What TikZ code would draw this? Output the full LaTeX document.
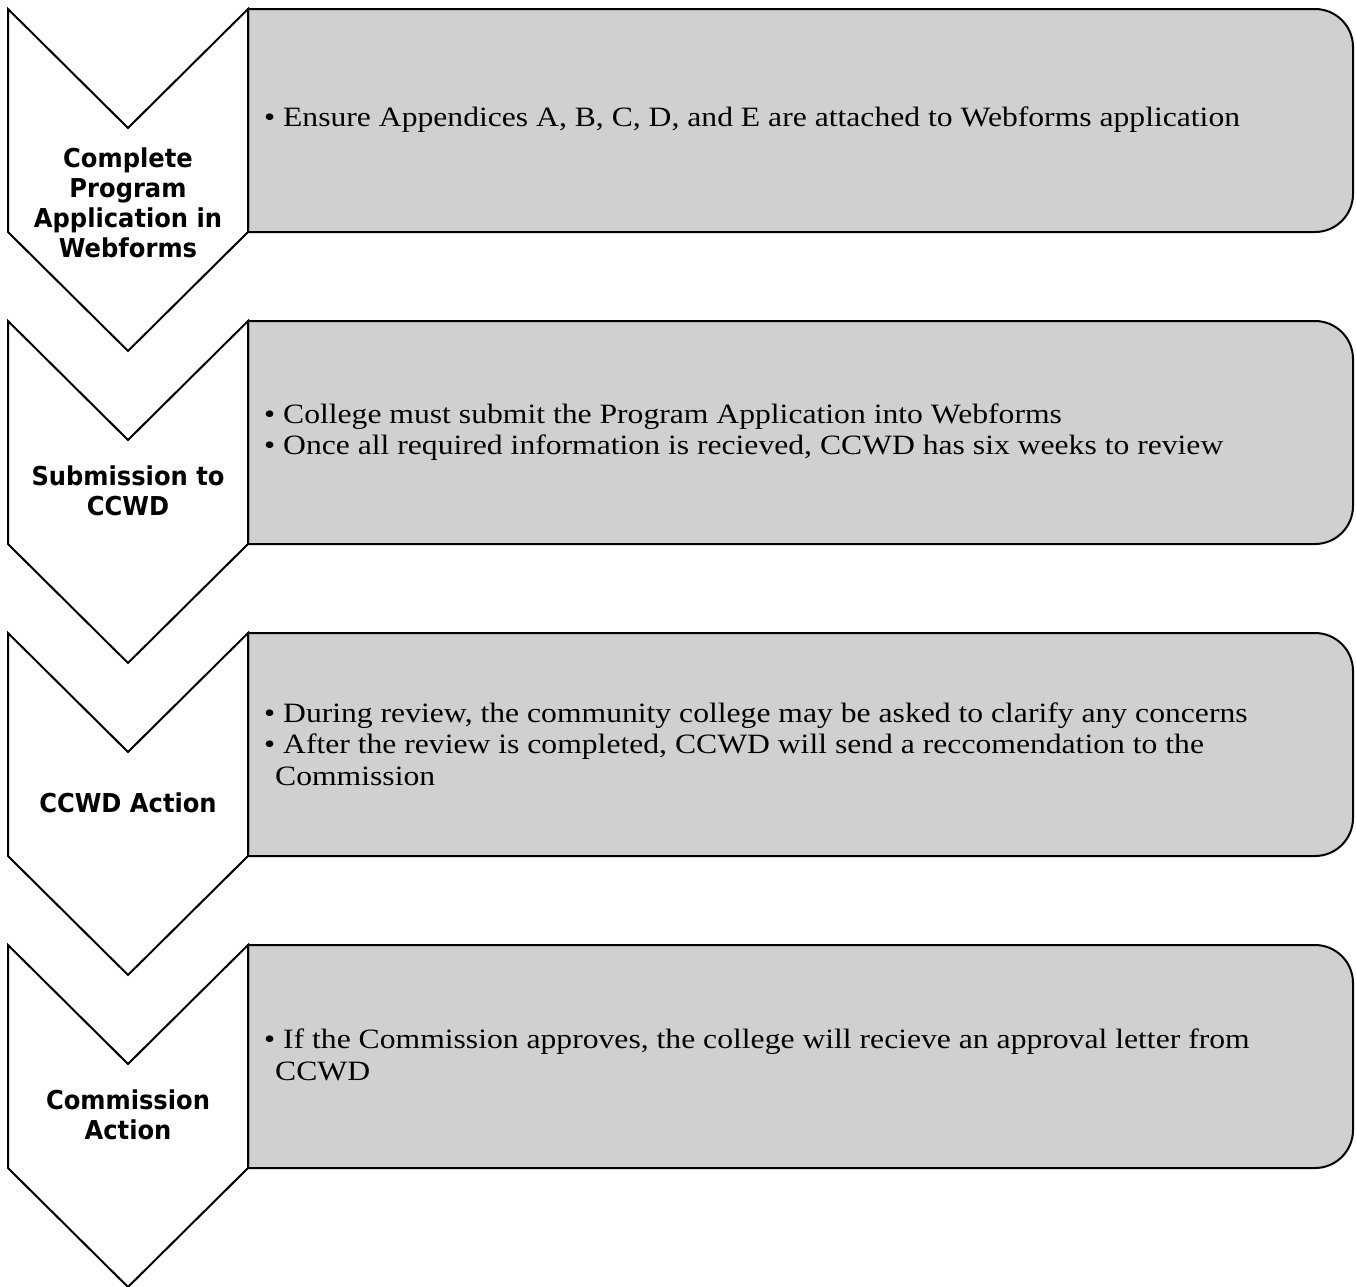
\documentclass[tikz,border=0pt]{standalone}
\usepackage{fontspec}
\setmainfont{Liberation Serif}[FakeStretch=1.13]
\newfontfamily\lblfont{DejaVu Sans}[FakeStretch=0.93]
\definecolor{boxgray}{RGB}{208,208,208}
\begin{document}
\begin{tikzpicture}[x=1pt,y=-1pt,
  chev/.style={draw=black, line width=2pt, fill=white, line join=miter},
  boxs/.style={draw=black, line width=2pt, fill=boxgray},
  lbl/.style={font=\lblfont\bfseries\fontsize{26}{30}\selectfont, align=center, inner sep=0pt},
  txt/.style={font=\fontsize{28}{31.5}\selectfont, align=left, anchor=west, inner sep=0pt}]
\useasboundingbox (0,0) rectangle (1356,1286);
\foreach \t in {9,321,633,945}{
  \draw[boxs] (248,\t) -- (1315,\t) arc(-90:0:38) -- (1353,\t+185) arc(0:90:38) -- (248,\t+223) -- cycle;
  \draw[chev] (8,\t) -- (128,\t+119) -- (248,\t) -- (248,\t+223) -- (128,\t+342) -- (8,\t+223) -- cycle;
}
\node[lbl] (c1) at (128,203) {Complete\\Program\\Application in\\Webforms};
\node[lbl] (c2) at (128,491) {Submission to\\CCWD};
\node[lbl] (c3) at (128,803) {CCWD Action};
\node[lbl] (c4) at (128,1115) {Commission\\Action};
\node[txt] (t1) at (264,120) {• Ensure Appendices A, B, C, D, and E are attached to Webforms application};
\node[txt] (t2) at (264,432) {• College must submit the Program Application into Webforms\\• Once all required information is recieved, CCWD has six weeks to review};
\node[txt] (t3) at (264,744) {• During review, the community college may be asked to clarify any concerns\\• After the review is completed, CCWD will send a reccomendation to the\\\hspace*{11pt}Commission};
\node[txt] (t4) at (264,1055) {• If the Commission approves, the college will recieve an approval letter from\\\hspace*{11pt}CCWD};
\end{tikzpicture}
\end{document}
